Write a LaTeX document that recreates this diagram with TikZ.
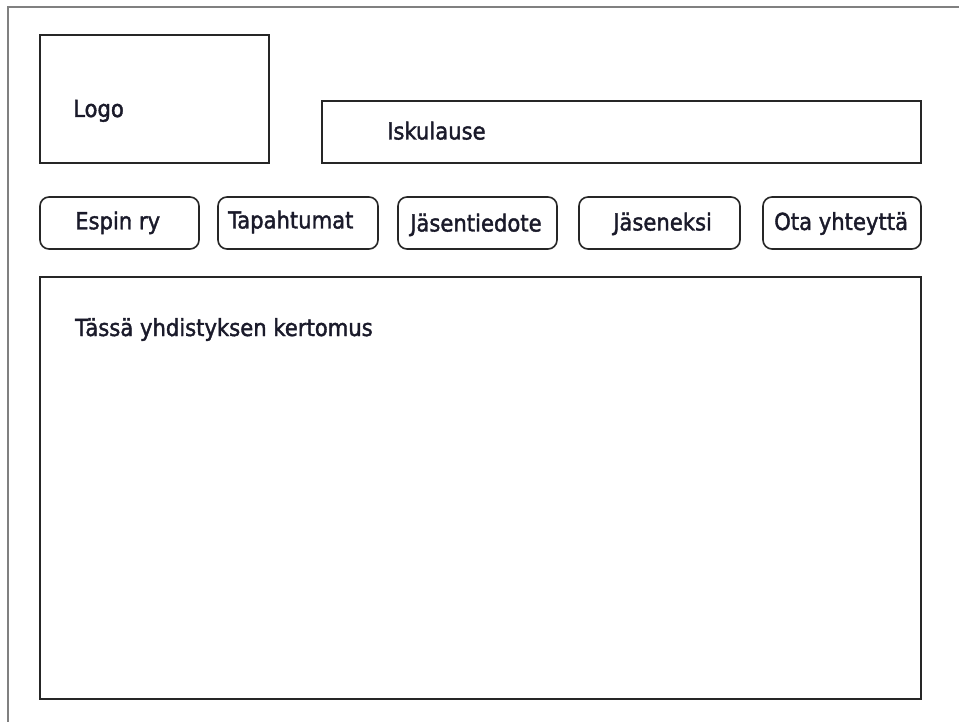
\documentclass[tikz,border=0pt]{standalone}
\usepackage{fontspec}
\setmainfont[FakeBold=1.6]{DejaVu Sans Condensed}
\definecolor{frame}{HTML}{808080}
\definecolor{boxline}{HTML}{262626}
\definecolor{txt}{HTML}{1A1A2A}
\begin{document}
\begin{tikzpicture}[x=1pt,y=-1pt,
  box/.style={draw=boxline,line width=2pt},
  btn/.style={draw=boxline,line width=1.6pt,rounded corners=9pt},
  lbl/.style={text=txt,font=\fontsize{23.5}{28}\selectfont,inner sep=0pt,anchor=base west}]
\useasboundingbox (0,0) rectangle (959,722);
\fill[white] (0,0) rectangle (959,722);
\draw[frame,line width=1.5pt] (8,722) -- (8,7) -- (959,7);
% header
\draw[box] (40,35) rectangle (269,163);
\node[lbl] (logo) at (73,117) {Logo};
\draw[box] (322,101) rectangle (921,163);
\node[lbl] (motto) at (387,139.5) {Iskulause};
% menu buttons
\draw[btn] (40,197) rectangle (199,249);
\node[lbl] (b1) at (75,229.3) {Espin ry};
\draw[btn] (218,197) rectangle (378,249);
\node[lbl] (b2) at (228,228.5) {Tapahtumat};
\draw[btn] (398,197) rectangle (557,249);
\node[lbl] (b3) at (410,231.5) {Jäsentiedote};
\draw[btn] (579,197) rectangle (740,249);
\node[lbl] (b4) at (613,230.5) {Jäseneksi};
\draw[btn] (763,197) rectangle (921,249);
\node[lbl] (b5) at (774,230) {Ota yhteyttä};
% content
\draw[box] (40,277) rectangle (921,699);
\node[lbl] (story) at (75,336) {Tässä yhdistyksen kertomus};
\end{tikzpicture}
\end{document}
